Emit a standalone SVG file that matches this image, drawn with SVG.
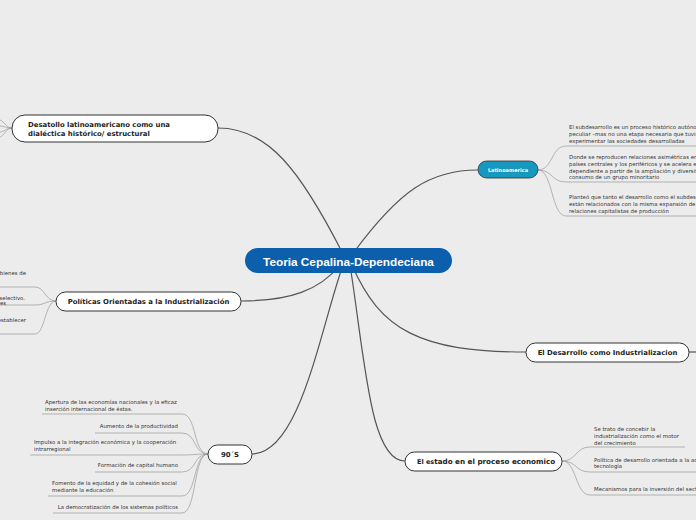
<svg xmlns="http://www.w3.org/2000/svg" width="696" height="520" viewBox="0 0 696 520">
<style>
.main{fill:none;stroke:#555;stroke-width:1.2}
.leaf{fill:none;stroke:#9a9a9a;stroke-width:0.7}
.node{fill:#fff;stroke:#333;stroke-width:1}
.nt{font-family:"DejaVu Sans",Verdana,sans-serif;font-weight:bold;font-size:6.9px;fill:#222}
.lt{font-family:"DejaVu Sans",Verdana,sans-serif;font-size:5.4px;fill:#333}
</style>
<rect width="696" height="520" fill="#ececec"/>
<g id="connectors">
<path class="main" d="M218,128 C268,128 300,170 342,252"/>
<path class="main" d="M354,252 C400,190 430,170 478,170"/>
<path class="main" d="M241,301 C290,301 320,290 340,265"/>
<path class="main" d="M252,454 C300,454 320,330 343,265"/>
<path class="main" d="M352,265 C380,330 420,352 526,352"/>
<path class="main" d="M350,265 C365,360 370,461 405,461"/>
<path class="main" d="M689,352 L696,352"/>
<path class="leaf" d="M12,128 C6,128 4,121 0,120"/>
<path class="leaf" d="M12,128 C6,128 4,126 0,126"/>
<path class="leaf" d="M12,128 C6,128 4,132 0,132"/>
<path class="leaf" d="M12,128 C6,128 4,136 0,137"/>
<path class="leaf" d="M56,301 C45,301 45,287 35,287 H0"/>
<path class="leaf" d="M56,301 C45,301 45,305 35,305 H0"/>
<path class="leaf" d="M56,301 C45,301 45,334 35,334 H0"/>
<path class="leaf" d="M538,170 C553,170 551,146 566,146 H696"/>
<path class="leaf" d="M538,170 C553,170 551,182 566,182 H696"/>
<path class="leaf" d="M538,170 C553,170 551,216 566,216 H696"/>
<path class="leaf" d="M562,461 C577,461 575,447 590,447 H685"/>
<path class="leaf" d="M562,461 C577,461 575,472 590,472 H696"/>
<path class="leaf" d="M562,461 C577,461 575,495 590,495 H696"/>
<path class="leaf" d="M208,454 C193,454 197,414 182,414 H42"/>
<path class="leaf" d="M208,454 C193,454 197,433 182,433 H95"/>
<path class="leaf" d="M208,454 C193,454 197,455 182,455 H30"/>
<path class="leaf" d="M208,454 C193,454 197,472 182,472 H95"/>
<path class="leaf" d="M208,454 C193,454 197,496 182,496 H48"/>
<path class="leaf" d="M208,454 C193,454 197,513 182,513 H53"/>
</g>
<g id="center">
<rect x="245" y="248" width="207" height="25" rx="12.5" fill="#0c5fac"/>
<text x="348.5" y="265.5" text-anchor="middle" font-family="Liberation Sans,Arial,sans-serif" font-weight="bold" font-size="11.8" fill="#fff">Teoria Cepalina-Dependeciana</text>
</g>
<g id="desatollo">
<rect class="node" x="12" y="115" width="206" height="27" rx="13"/>
<text class="nt" x="28" y="127">Desatollo latinoamericano como una</text>
<text class="nt" x="28" y="136">dialéctica histórico/ estructural</text>
</g>
<g id="politicas">
<rect class="node" x="56" y="292" width="185" height="19" rx="9.5"/>
<text class="nt" x="148.5" y="304" text-anchor="middle">Políticas Orientadas a la Industrialización</text>
<text class="lt" x="26" y="275" text-anchor="end">bienes de</text>
<text class="lt" x="25" y="300" text-anchor="end">selectivo.</text>
<text class="lt" x="6" y="305" text-anchor="end">es</text>
<text class="lt" x="26" y="322" text-anchor="end">establecer</text>
</g>
<g id="noventas">
<rect class="node" x="208" y="445" width="44" height="19" rx="9.5"/>
<text class="nt" x="230" y="457" text-anchor="middle">90´S</text>
<text class="lt" x="45" y="404">Apertura de las economías nacionales y la eficaz</text>
<text class="lt" x="45" y="411">inserción internacional de éstas.</text>
<text class="lt" x="178" y="428" text-anchor="end">Aumento de la productividad</text>
<text class="lt" x="34" y="444">Impulso a la integración económica y la cooperación</text>
<text class="lt" x="34" y="451">intrarregional</text>
<text class="lt" x="178" y="467" text-anchor="end">Formación de capital humano</text>
<text class="lt" x="52" y="485">Fomento de la equidad y de la cohesión social</text>
<text class="lt" x="52" y="492">mediante la educación</text>
<text class="lt" x="178" y="509" text-anchor="end">La democratización de los sistemas políticos</text>
</g>
<g id="latinoamerica">
<rect x="478" y="161" width="60" height="17" rx="8.5" fill="#1798be" stroke="#333" stroke-width="0.8"/>
<text x="508" y="172" text-anchor="middle" font-family="DejaVu Sans,Verdana,sans-serif" font-weight="bold" font-size="5" fill="#fff">Latinoamerica</text>
<text class="lt" x="569" y="129">El subdesarrollo es un proceso histórico autónomo</text>
<text class="lt" x="569" y="136">peculiar –mas no una etapa necesaria que tuvieron</text>
<text class="lt" x="569" y="143">experimentar las sociedades desarrolladas</text>
<text class="lt" x="569" y="159">Donde se reproducen relaciones asimétricas entre</text>
<text class="lt" x="569" y="166">países centrales y los periféricos y se acelera el</text>
<text class="lt" x="569" y="173">dependiente a partir de la ampliación y diversificación</text>
<text class="lt" x="569" y="179">consumo de un grupo minoritario</text>
<text class="lt" x="569" y="199">Planteó que tanto el desarrollo como el subdesarrollo</text>
<text class="lt" x="569" y="206">están relacionados con la misma expansión de las</text>
<text class="lt" x="569" y="213">relaciones capitalistas de producción</text>
</g>
<g id="desarrollo">
<rect class="node" x="526" y="343" width="163" height="19" rx="9.5"/>
<text class="nt" x="607.5" y="355" text-anchor="middle">El Desarrollo como Industrializacion</text>
</g>
<g id="estado">
<rect class="node" x="405" y="452" width="157" height="19" rx="9.5"/>
<text class="nt" x="417" y="464"><tspan font-size="6.5">El es</tspan><tspan font-size="7.2">tado en el proceso economico</tspan></text>
<text class="lt" x="594" y="431">Se trato de concebir la</text>
<text class="lt" x="594" y="438">industrialización como el motor</text>
<text class="lt" x="594" y="445">del crecimiento</text>
<text class="lt" x="594" y="462">Política de desarrollo orientada a la adopción</text>
<text class="lt" x="594" y="468">tecnología</text>
<text class="lt" x="594" y="491">Mecanismos para la inversión del sector</text>
</g>
</svg>
